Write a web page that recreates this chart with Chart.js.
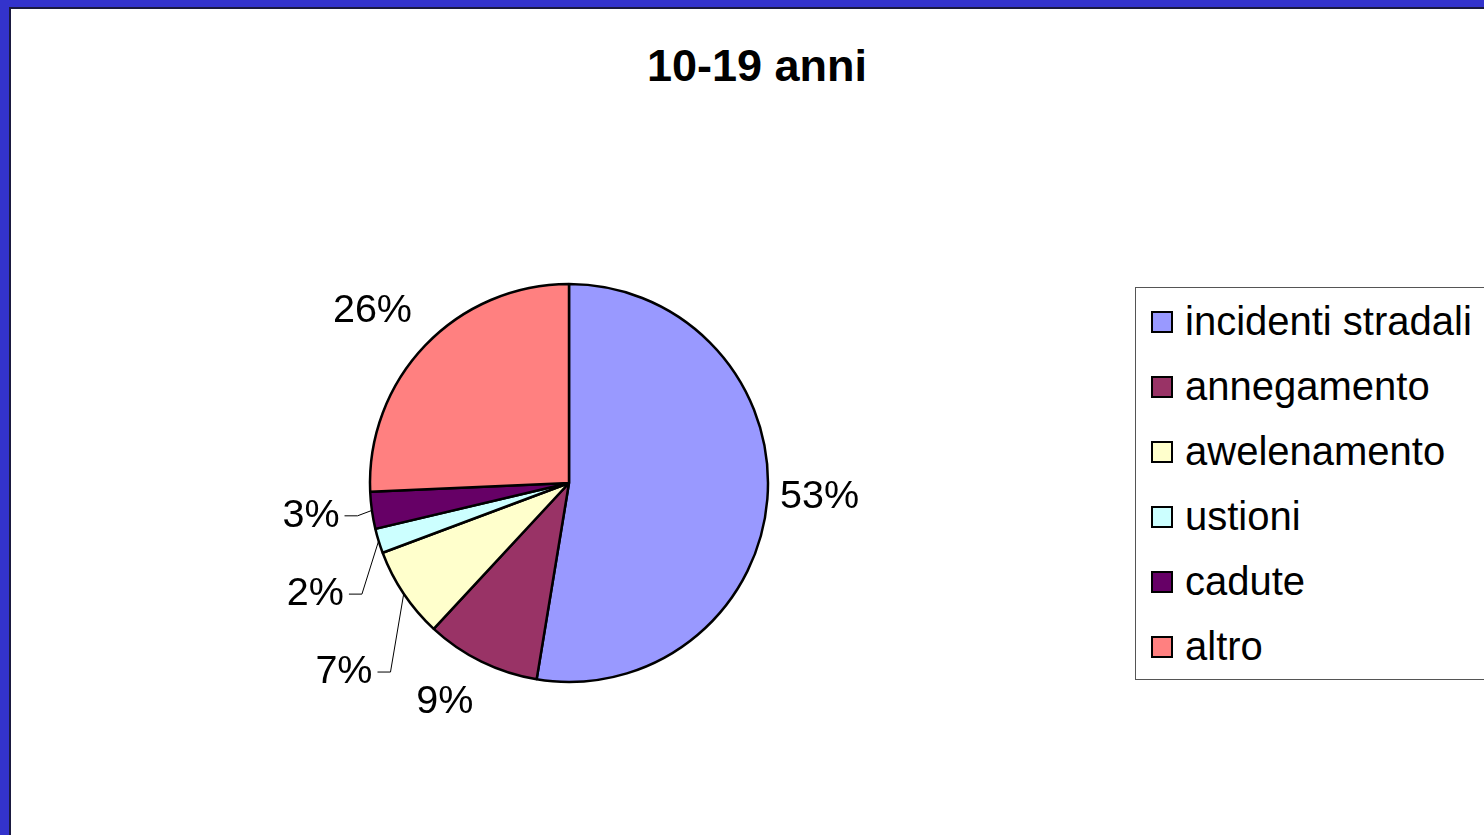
<!DOCTYPE html>
<html>
<head>
<meta charset="utf-8">
<script src="https://cdn.jsdelivr.net/npm/chart.js@4/dist/chart.umd.min.js"></script>
<style>
  body { margin: 0; width: 1484px; height: 835px; overflow: hidden; background: #3333cc; position: relative; font-family: "Liberation Sans", Arial, sans-serif; }
  #panel { position: absolute; left: 9px; top: 7px; width: 1520px; height: 900px; background: #fff; border-left: 2px solid #1a1a40; border-top: 2px solid #1a1a40; }
  #title { position: absolute; left: 0; top: 38px; width: 1514px; text-align: center; font-weight: bold; font-size: 45px; line-height: 56px; color: #000; }
  #legend { position: absolute; left: 1135px; top: 287px; width: 420px; padding-top: 1px; border: 1px solid #555; background: #fff; }
  .item { height: 65px; display: flex; align-items: center; font-size: 40px; color: #000; }
  .box { width: 18px; height: 18px; border: 2px solid #000; margin-left: 15px; margin-right: 12px; }
  canvas { position: absolute; left: 0; top: 0; }
</style>
</head>
<body>
<div id="panel"></div>
<div id="title">10-19 anni</div>
<div id="legend"></div>
<canvas id="pieChart" width="1484" height="835"></canvas>
<script>
let causes = ["incidenti stradali", "annegamento", "avvelenamento", "ustioni", "cadute", "altro"];
let legendNames = ["incidenti stradali", "annegamento", "awelenamento", "ustioni", "cadute", "altro"];
let shares = [52.6, 9.3, 7.4, 2.0, 3.0, 25.7];
let sliceColors = ["#9999ff", "#993366", "#ffffcc", "#ccffff", "#660066", "#ff8080"];

// label placement: radial distance, angle shift (deg), leader line
let labelPlace = [
  {r: 251, da: -1.5, leader: false},
  {r: 252, da: 3.4, leader: false},
  {r: 260, da: -12.8, leader: true},
  {r: 235, da: -11.3, leader: true},
  {r: 214, da: -0.9, leader: true},
  {r: 261, da: -2.6, leader: false}
];

let legendDiv = document.getElementById('legend');
for (let i = 0; i < legendNames.length; i++) {
  let row = document.createElement('div');
  row.className = 'item';
  row.innerHTML = '<span class="box" style="background:' + sliceColors[i] + '"></span><span>' + legendNames[i] + '</span>';
  legendDiv.appendChild(row);
}

let percentLabels = {
  id: 'percentLabels',
  afterDatasetsDraw(chart) {
    let ctx = chart.ctx;
    let arcs = chart.getDatasetMeta(0).data;
    let total = shares.reduce((a, b) => a + b, 0);
    ctx.save();
    ctx.font = '39.5px "Liberation Sans", Arial, sans-serif';
    ctx.fillStyle = '#000';
    ctx.textBaseline = 'middle';
    arcs.forEach((arc, i) => {
      let p = arc.getProps(['x', 'y', 'startAngle', 'endAngle', 'outerRadius']);
      let mid = (p.startAngle + p.endAngle) / 2;
      let place = labelPlace[i];
      let a = mid + place.da * Math.PI / 180;
      let lx = p.x + Math.cos(a) * place.r;
      let ly = p.y + Math.sin(a) * place.r;
      let txt = Math.round(shares[i] / total * 100) + '%';
      if (place.leader) {
        let ex = p.x + Math.cos(mid) * p.outerRadius;
        let ey = p.y + Math.sin(mid) * p.outerRadius;
        ctx.strokeStyle = '#000';
        ctx.lineWidth = 1;
        ctx.beginPath();
        ctx.moveTo(ex, ey);
        ctx.lineTo(lx, ly);
        ctx.lineTo(lx - 13, ly);
        ctx.stroke();
        ctx.textAlign = 'right';
        ctx.fillText(txt, lx - 18, ly);
      } else {
        ctx.textAlign = 'center';
        ctx.fillText(txt, lx, ly);
      }
    });
    ctx.restore();
  }
};

let pieChart = new Chart(document.getElementById('pieChart'), {
  type: 'pie',
  data: {
    labels: causes,
    datasets: [{
      data: shares,
      backgroundColor: sliceColors,
      borderColor: '#000',
      borderWidth: 2.5
    }]
  },
  options: {
    responsive: false,
    animation: false,
    devicePixelRatio: 1,
    radius: 199,
    layout: { padding: { left: 369, right: 715, top: 283, bottom: 152 } },
    plugins: {
      legend: { display: false },
      title: { display: false },
      tooltip: { enabled: false }
    }
  },
  plugins: [percentLabels]
});
</script>
</body>
</html>
